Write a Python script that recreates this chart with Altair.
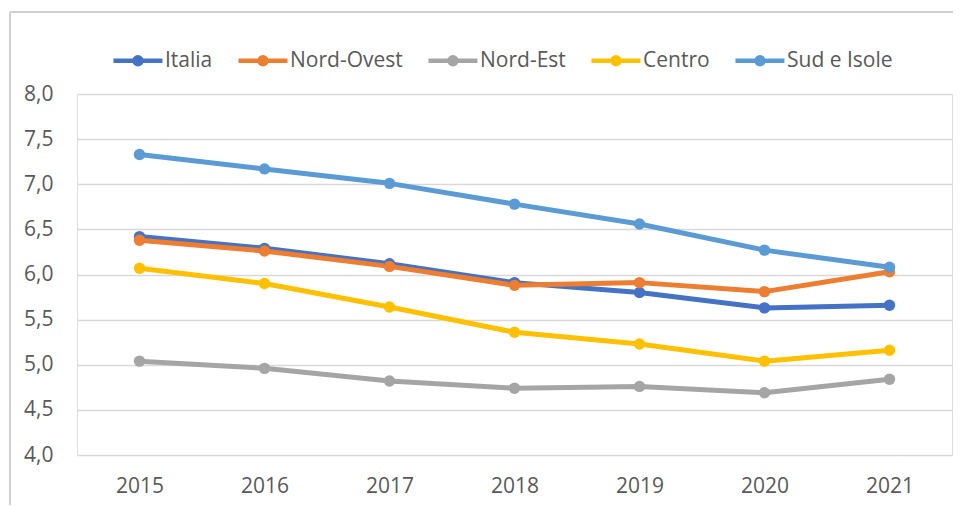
import altair as alt
import pandas as pd

years = ["2015", "2016", "2017", "2018", "2019", "2020", "2021"]
series_names = ["Italia", "Nord-Ovest", "Nord-Est", "Centro", "Sud e Isole"]
italia = [6.42, 6.29, 6.12, 5.91, 5.80, 5.63, 5.66]
nord_ovest = [6.38, 6.26, 6.09, 5.88, 5.91, 5.81, 6.03]
nord_est = [5.04, 4.96, 4.82, 4.74, 4.76, 4.69, 4.84]
centro = [6.07, 5.90, 5.64, 5.36, 5.23, 5.04, 5.16]
sud_isole = [7.33, 7.17, 7.01, 6.78, 6.56, 6.27, 6.08]
colors = ["#4472C4", "#ED7D31", "#A5A5A5", "#FFC000", "#5B9BD5"]
y_ticks = [4.0, 4.5, 5.0, 5.5, 6.0, 6.5, 7.0, 7.5, 8.0]

all_series = [italia, nord_ovest, nord_est, centro, sud_isole]
rows = []
for name, vals in zip(series_names, all_series):
    for yr, v in zip(years, vals):
        rows.append({"Anno": yr, "Area": name, "Valore": v})
df = pd.DataFrame(rows)
df["ordine"] = df["Area"].map({n: i for i, n in enumerate(series_names)})

FONT = "Open Sans"
W, H = 875, 361

legend_symbol = (
    "M-0.92,0L1.08,0 "
    "M-0.063,0A0.143,0.143,0,1,1,0.223,0A0.143,0.143,0,1,1,-0.063,0Z "
    "M0.019,0A0.061,0.061,0,1,1,0.141,0A0.061,0.061,0,1,1,0.019,0Z"
)

lines = alt.Chart(df).mark_line(
    strokeWidth=5,
    strokeJoin="round",
    point=alt.OverlayMarkDef(filled=True, size=130, opacity=1),
).encode(
    x=alt.X("Anno:O", sort=years, scale=alt.Scale(type="point", padding=0.5),
            axis=alt.Axis(title=None, labelAngle=0, ticks=False, tickSize=0,
                          domain=False, grid=False, labelPadding=20,
                          labelFont=FONT, labelFontSize=21, labelColor="#595959")),
    y=alt.Y("Valore:Q", scale=alt.Scale(domain=[4, 8], nice=False, zero=False),
            axis=alt.Axis(title=None, values=y_ticks, ticks=False, tickSize=0,
                          domain=False, grid=True, gridColor="#D9D9D9", gridWidth=1.4,
                          labelPadding=24, labelFont=FONT, labelFontSize=21,
                          labelColor="#595959",
                          labelExpr="replace(format(datum.value, '.1f'), '.', ',')")),
    color=alt.Color("Area:N", sort=series_names,
                    scale=alt.Scale(domain=series_names, range=colors),
                    legend=alt.Legend(title=None, orient="none", direction="horizontal",
                                      legendX=32, legendY=-60.5,
                                      symbolType=legend_symbol, symbolSize=2401,
                                      symbolStrokeWidth=4.5, symbolFillColor="transparent",
                                      labelFont=FONT, labelFontSize=21, labelColor="#595959",
                                      labelOffset=2, columnPadding=16, padding=0)),
    order=alt.Order("ordine:Q"),
)

frame_df = pd.DataFrame({"k": [0]})
frame_v = alt.Chart(frame_df).mark_rule(color="#D0D0D0", strokeWidth=2).encode(
    x=alt.value(-67), y=alt.value(-82), y2=alt.value(H + 60)
)
frame_h = alt.Chart(frame_df).mark_rule(color="#D0D0D0", strokeWidth=2).encode(
    x=alt.value(-67), x2=alt.value(W + 10), y=alt.value(-82)
)

chart = alt.layer(frame_v, frame_h, lines).properties(
    width=W, height=H,
    autosize=alt.AutoSizeParams(type="none"),
    padding={"left": 69, "top": 86, "right": 1, "bottom": 50},
).configure_view(stroke=None).configure(background="white")

chart.save("out.html", embed_options={"renderer": "svg", "actions": False})
